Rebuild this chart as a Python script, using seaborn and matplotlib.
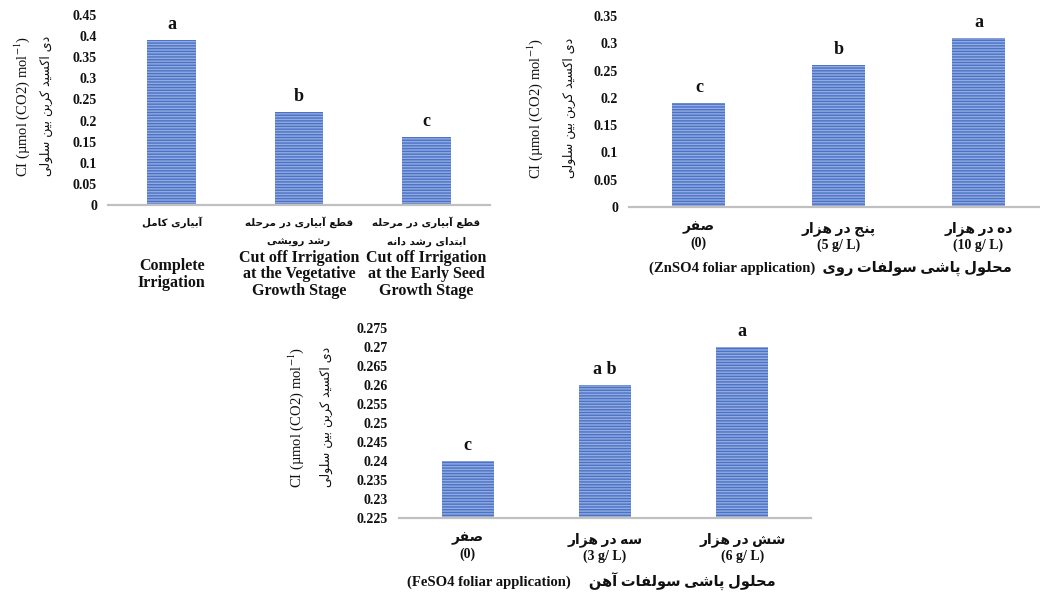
import numpy as np
import pandas as pd
import matplotlib
matplotlib.use('Agg')
import matplotlib.pyplot as plt
import seaborn as sns
from matplotlib.transforms import blended_transform_factory

# ---------------- data ----------------
irr_fa = ['آبیاری کامل', 'قطع آبیاری در مرحله\nرشد رویشی', 'قطع آبیاری در مرحله\nابتدای رشد دانه']
irr_en = ['Complete\nIrrigation', 'Cut off Irrigation\nat the Vegetative\nGrowth Stage',
          'Cut off Irrigation\nat the Early Seed\nGrowth Stage']
irr_ci = [0.39, 0.22, 0.16]
irr_sig = ['a', 'b', 'c']
irr_ticks = [0, 0.05, 0.1, 0.15, 0.2, 0.25, 0.3, 0.35, 0.4, 0.45]

zn_fa = ['صفر', 'پنج در هزار', 'ده در هزار']
zn_dose = ['(0)', '(5 g/ L)', '(10 g/ L)']
zn_ci = [0.19, 0.26, 0.31]
zn_sig = ['c', 'b', 'a']
zn_ticks = [0, 0.05, 0.1, 0.15, 0.2, 0.25, 0.3, 0.35]
zn_xlabel_en = '(ZnSO4 foliar application)'
zn_xlabel_fa = 'محلول پاشی سولفات روی'

fe_fa = ['صفر', 'سه در هزار', 'شش در هزار']
fe_dose = ['(0)', '(3 g/ L)', '(6 g/ L)']
fe_ci = [0.24, 0.26, 0.27]
fe_sig = ['c', 'a b', 'a']
fe_ticks = [0.225, 0.23, 0.235, 0.24, 0.245, 0.25, 0.255, 0.26, 0.265, 0.27, 0.275]
fe_xlabel_en = '(FeSO4 foliar application)'
fe_xlabel_fa = 'محلول پاشی سولفات آهن'

ylabel_en = 'CI (µmol (CO2) mol$^{-1}$)'
ylabel_fa = 'دی اکسید کربن بین سلولی'

# ------------- minimal Persian shaping (presentation forms + visual order) -------------
FORMS = {
    'ا': ('\uFE8D', '\uFE8E', None, None),
    'آ': ('\uFE81', '\uFE82', None, None),
    'ب': ('\uFE8F', '\uFE90', '\uFE91', '\uFE92'),
    'پ': ('\uFB56', '\uFB57', '\uFB58', '\uFB59'),
    'ت': ('\uFE95', '\uFE96', '\uFE97', '\uFE98'),
    'ج': ('\uFE9D', '\uFE9E', '\uFE9F', '\uFEA0'),
    'ح': ('\uFEA1', '\uFEA2', '\uFEA3', '\uFEA4'),
    'د': ('\uFEA9', '\uFEAA', None, None),
    'ر': ('\uFEAD', '\uFEAE', None, None),
    'ز': ('\uFEAF', '\uFEB0', None, None),
    'س': ('\uFEB1', '\uFEB2', '\uFEB3', '\uFEB4'),
    'ش': ('\uFEB5', '\uFEB6', '\uFEB7', '\uFEB8'),
    'ص': ('\uFEB9', '\uFEBA', '\uFEBB', '\uFEBC'),
    'ط': ('\uFEC1', '\uFEC2', '\uFEC3', '\uFEC4'),
    'ع': ('\uFEC9', '\uFECA', '\uFECB', '\uFECC'),
    'ف': ('\uFED1', '\uFED2', '\uFED3', '\uFED4'),
    'ق': ('\uFED5', '\uFED6', '\uFED7', '\uFED8'),
    'ک': ('\uFB8E', '\uFB8F', '\uFB90', '\uFB91'),
    'ل': ('\uFEDD', '\uFEDE', '\uFEDF', '\uFEE0'),
    'م': ('\uFEE1', '\uFEE2', '\uFEE3', '\uFEE4'),
    'ن': ('\uFEE5', '\uFEE6', '\uFEE7', '\uFEE8'),
    'ه': ('\uFEE9', '\uFEEA', '\uFEEB', '\uFEEC'),
    'و': ('\uFEED', '\uFEEE', None, None),
    'ی': ('\uFBFC', '\uFBFD', '\uFBFE', '\uFBFF'),
}


def shape_line(s):
    out = []
    for i, c in enumerate(s):
        if c not in FORMS:
            out.append(c)
            continue
        prev = s[i - 1] if i > 0 else None
        nxt = s[i + 1] if i + 1 < len(s) else None
        jp = prev in FORMS and FORMS[prev][2] is not None
        jn = nxt in FORMS and FORMS[c][2] is not None
        iso, fin, ini, med = FORMS[c]
        if jp and jn:
            out.append(med)
        elif jp:
            out.append(fin)
        elif jn:
            out.append(ini)
        else:
            out.append(iso)
    return ''.join(out)[::-1]


def fa(s):
    return '\n'.join(shape_line(line) for line in s.split('\n'))


# ---------------- style ----------------
sns.set_theme(style='white')
SERIF = 'Liberation Serif'
PERS = 'DejaVu Sans'
plt.rcParams['font.family'] = [SERIF, PERS]
plt.rcParams['mathtext.fontset'] = 'stix'
plt.rcParams['hatch.linewidth'] = 1.0

FACE = '#93abe0'
STRIPE = '#4a72c6'
BASE = '#c0c0c0'
TXT = '#111111'

W, H = 1040, 594
fig = plt.figure(figsize=(W / 100, H / 100), dpi=100)


def px_axes(l, t, r, b):
    return fig.add_axes([l / W, 1 - b / H, (r - l) / W, (b - t) / H])


def draw(ax, labels, vals, sig, ticks, xlim_right=2.5):
    df = pd.DataFrame({'cat': labels, 'ci': vals})
    sns.barplot(data=df, x='cat', y='ci', ax=ax, color=FACE, saturation=1,
                width=0.38, edgecolor=STRIPE, linewidth=0)
    for p in ax.patches:
        p.set_hatch('------')
    ax.set_ylim(ticks[0], ticks[-1])
    ax.set_xlim(-0.5, xlim_right)
    ax.set_yticks(ticks)
    ax.set_yticklabels(['%g' % t for t in ticks], fontfamily=SERIF,
                       fontweight='bold', fontsize=10, color=TXT)
    for s in ['top', 'right', 'left']:
        ax.spines[s].set_visible(False)
    ax.spines['bottom'].set_color(BASE)
    ax.spines['bottom'].set_linewidth(1.6)
    ax.tick_params(axis='both', length=0)
    ax.tick_params(axis='y', pad=8)
    ax.set_xlabel('')
    ax.set_ylabel('')
    for i, (v, s) in enumerate(zip(vals, sig)):
        ax.annotate(s, xy=(i, v), xytext=(0, 5), textcoords='offset points',
                    ha='center', va='bottom', fontsize=13, fontweight='bold',
                    fontfamily=SERIF, color=TXT)


def ylabels(ax, x_en, x_fa, yc):
    ax.set_ylabel(ylabel_en, fontfamily=SERIF, fontsize=10.5, color=TXT)
    ax.yaxis.set_label_coords(x_en, yc)
    ax.yaxis.label.set_va('center')
    ax.text(x_fa, yc, fa(ylabel_fa), transform=ax.transAxes, rotation=90,
            ha='center', va='center', fontfamily=PERS, fontsize=9, color=TXT)


# ---------- top-left: irrigation ----------
ax1 = px_axes(108, 15, 490, 205)
draw(ax1, [fa(s) for s in irr_fa], irr_ci, irr_sig, irr_ticks)
for lab in ax1.get_xticklabels():
    lab.set_fontfamily(PERS)
    lab.set_fontweight('bold')
    lab.set_fontsize(7.5)
    lab.set_linespacing(2.1)
    lab.set_color(TXT)
ax1.tick_params(axis='x', pad=8)
bt1 = blended_transform_factory(ax1.transData, ax1.transAxes)
for i, en in enumerate(irr_en):
    ax1.text(i, -0.365, en, transform=bt1, ha='center', va='center',
             multialignment='center', fontfamily=SERIF, fontweight='bold',
             fontsize=11.5, linespacing=1.05, color=TXT)
ylabels(ax1, -0.225, -0.16, 0.52)

# ---------- top-right: ZnSO4 ----------
ax2 = px_axes(629, 16, 1040, 207)
draw(ax2, [fa(f) + '\n' + d for f, d in zip(zn_fa, zn_dose)], zn_ci, zn_sig, zn_ticks,
     xlim_right=2.44)
for lab in ax2.get_xticklabels():
    lab.set_fontweight('bold')
    lab.set_fontsize(10)
    lab.set_linespacing(1.3)
    lab.set_color(TXT)
ax2.tick_params(axis='x', pad=10)
ax2.set_xlabel(zn_xlabel_en + '  ' + fa(zn_xlabel_fa), fontweight='bold',
               fontsize=10.5, color=TXT)
ax2.xaxis.set_label_coords(0.49, -0.32)
ax2.xaxis.label.set_va('center')
ylabels(ax2, -0.229, -0.146, 0.518)

# ---------- bottom: FeSO4 ----------
ax3 = px_axes(399, 328, 811, 518)
draw(ax3, [fa(f) + '\n' + d for f, d in zip(fe_fa, fe_dose)], fe_ci, fe_sig, fe_ticks)
for lab in ax3.get_xticklabels():
    lab.set_fontweight('bold')
    lab.set_fontsize(10)
    lab.set_linespacing(1.3)
    lab.set_color(TXT)
ax3.tick_params(axis='x', pad=10)
ax3.set_xlabel(fe_xlabel_en + '     ' + fa(fe_xlabel_fa), fontweight='bold',
               fontsize=10.5, color=TXT)
ax3.xaxis.set_label_coords(0.468, -0.337)
ax3.xaxis.label.set_va('center')
ylabels(ax3, -0.25, -0.177, 0.53)

fig.savefig('out.png', dpi=100)
